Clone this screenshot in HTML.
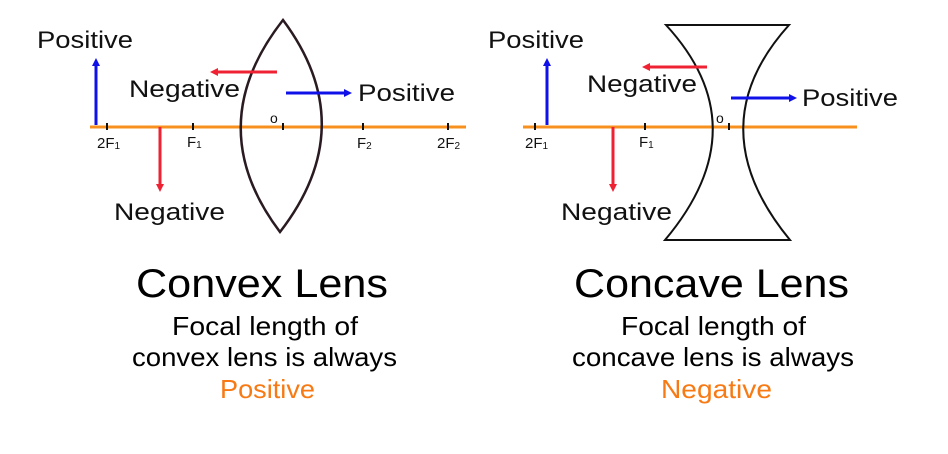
<!DOCTYPE html>
<html><head><meta charset="utf-8"><style>
html,body{margin:0;padding:0;background:#fff;width:948px;height:454px;overflow:hidden}
svg{display:block}
text{font-family:"Liberation Sans",sans-serif}
</style></head><body>
<svg width="948" height="454" viewBox="0 0 948 454" xmlns="http://www.w3.org/2000/svg">
<defs>
<marker id="b" markerWidth="8" markerHeight="8" refX="4" refY="4" orient="auto" markerUnits="userSpaceOnUse"><path d="M0,0 L8,4 L0,8 z" fill="#1010e8"/></marker>
<marker id="r" markerWidth="8" markerHeight="8" refX="4" refY="4" orient="auto" markerUnits="userSpaceOnUse"><path d="M0,0 L8,4 L0,8 z" fill="#ee2233"/></marker>
</defs>
<!-- Convex -->
<line x1="90" y1="127" x2="466" y2="127" stroke="#f7901e" stroke-width="3"/>
<g stroke="#111" stroke-width="2">
<line x1="107" y1="123" x2="107" y2="130"/><line x1="193" y1="123" x2="193" y2="130"/>
<line x1="283" y1="123" x2="283" y2="130"/><line x1="363" y1="123" x2="363" y2="130"/><line x1="448" y1="123" x2="448" y2="130"/>
</g>
<path d="M283,20 Q200,126 280,232 Q362,126 283,20 Z" fill="none" stroke="#2a1a22" stroke-width="2.5"/>
<g font-size="15" fill="#111">
<text x="97" y="148">2F<tspan font-size="10" dy="1">1</tspan></text>
<text x="187" y="147">F<tspan font-size="10" dy="1">1</tspan></text>
<text x="357" y="148">F<tspan font-size="10" dy="1">2</tspan></text>
<text x="437" y="148">2F<tspan font-size="10" dy="1">2</tspan></text>
<text x="270" y="123" font-size="14">o</text>
</g>
<line x1="96" y1="125" x2="96" y2="62" stroke="#1010e8" stroke-width="3" marker-end="url(#b)"/>
<line x1="277" y1="72" x2="214" y2="72" stroke="#ee2233" stroke-width="3" marker-end="url(#r)"/>
<line x1="286" y1="93" x2="348" y2="93" stroke="#1010e8" stroke-width="3" marker-end="url(#b)"/>
<line x1="160" y1="127" x2="160" y2="188" stroke="#ee2233" stroke-width="3" marker-end="url(#r)"/>
<g font-size="24" fill="#111">
<text x="37" y="48" textLength="96" lengthAdjust="spacingAndGlyphs">Positive</text>
<text x="129" y="97" textLength="111" lengthAdjust="spacingAndGlyphs">Negative</text>
<text x="358" y="101" textLength="97" lengthAdjust="spacingAndGlyphs">Positive</text>
<text x="114" y="220" textLength="111" lengthAdjust="spacingAndGlyphs">Negative</text>
</g>
<!-- Concave -->
<line x1="523" y1="127" x2="857" y2="127" stroke="#f7901e" stroke-width="3"/>
<g stroke="#111" stroke-width="2">
<line x1="535" y1="123" x2="535" y2="130"/><line x1="645" y1="123" x2="645" y2="130"/><line x1="729" y1="123" x2="729" y2="130"/>
</g>
<path d="M666,25 L789,25 Q697,127 790,240 L665,240 Q760,127 666,25 Z" fill="none" stroke="#111" stroke-width="2"/>
<g font-size="15" fill="#111">
<text x="525" y="148">2F<tspan font-size="10" dy="1">1</tspan></text>
<text x="639" y="147">F<tspan font-size="10" dy="1">1</tspan></text>
<text x="716" y="123" font-size="14">o</text>
</g>
<line x1="547" y1="125" x2="547" y2="62" stroke="#1010e8" stroke-width="3" marker-end="url(#b)"/>
<line x1="707" y1="67" x2="646" y2="67" stroke="#ee2233" stroke-width="3" marker-end="url(#r)"/>
<line x1="731" y1="98" x2="793" y2="98" stroke="#1010e8" stroke-width="3" marker-end="url(#b)"/>
<line x1="613" y1="127" x2="613" y2="188" stroke="#ee2233" stroke-width="3" marker-end="url(#r)"/>
<g font-size="24" fill="#111">
<text x="488" y="48" textLength="96" lengthAdjust="spacingAndGlyphs">Positive</text>
<text x="587" y="92" textLength="110" lengthAdjust="spacingAndGlyphs">Negative</text>
<text x="802" y="106" textLength="96" lengthAdjust="spacingAndGlyphs">Positive</text>
<text x="561" y="220" textLength="111" lengthAdjust="spacingAndGlyphs">Negative</text>
</g>
<!-- Captions -->
<g fill="#000">
<text x="136" y="297" font-size="40" textLength="252" lengthAdjust="spacingAndGlyphs">Convex Lens</text>
<text x="172" y="335" font-size="26" textLength="186" lengthAdjust="spacingAndGlyphs">Focal length of</text>
<text x="132" y="366" font-size="26" textLength="265" lengthAdjust="spacingAndGlyphs">convex lens is always</text>
<text x="574" y="297" font-size="40" textLength="275" lengthAdjust="spacingAndGlyphs">Concave Lens</text>
<text x="621" y="335" font-size="26" textLength="185" lengthAdjust="spacingAndGlyphs">Focal length of</text>
<text x="572" y="366" font-size="26" textLength="282" lengthAdjust="spacingAndGlyphs">concave lens is always</text>
</g>
<text x="220" y="398" font-size="26" fill="#f77a14" textLength="95" lengthAdjust="spacingAndGlyphs">Positive</text>
<text x="661" y="398" font-size="26" fill="#f77a14" textLength="111" lengthAdjust="spacingAndGlyphs">Negative</text>
</svg>
</body></html>
